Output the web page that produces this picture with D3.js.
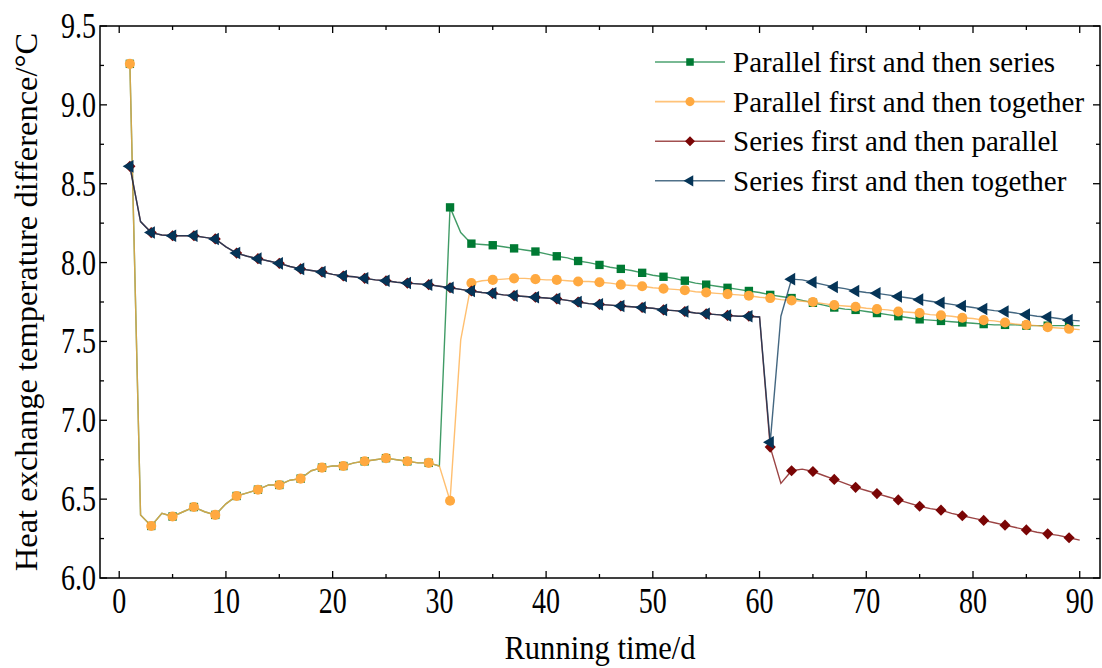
<!DOCTYPE html>
<html>
  <head>
    <meta charset="utf-8">
    <title>Heat exchange temperature difference</title>
    <style>
      body {
        margin: 0;
        background-color: white;
      }
      text {
        font-family: "Liberation Serif", "Times New Roman", serif;
        fill: black;
      }
    </style>
  </head>
  <body>
    <div id="chart"></div>

    <script src="https://d3js.org/d3.v7.min.js"></script>
    <script>
      var days = d3.range(1, 91);

      var parallelSeries = [
        9.26, 6.40, 6.33, 6.41, 6.39, 6.42, 6.45, 6.42, 6.40, 6.47,
        6.52, 6.54, 6.56, 6.59, 6.59, 6.62, 6.63, 6.68, 6.70, 6.71,
        6.71, 6.73, 6.74, 6.75, 6.76, 6.75, 6.74, 6.73, 6.73, 6.71,
        8.35, 8.19, 8.12, 8.115, 8.11, 8.10, 8.09, 8.08, 8.07, 8.055,
        8.04, 8.03, 8.01, 8.00, 7.985, 7.97, 7.96, 7.95, 7.935, 7.92,
        7.91, 7.90, 7.885, 7.87, 7.86, 7.85, 7.84, 7.83, 7.82, 7.81,
        7.795, 7.785, 7.775, 7.76, 7.745, 7.73, 7.715, 7.705, 7.70, 7.69,
        7.68, 7.67, 7.66, 7.65, 7.64, 7.635, 7.63, 7.625, 7.62, 7.615,
        7.61, 7.605, 7.605, 7.605, 7.60, 7.60, 7.60, 7.60, 7.60, 7.60
      ];

      var parallelTogether = [
        9.26, 6.40, 6.33, 6.41, 6.39, 6.42, 6.45, 6.42, 6.40, 6.47,
        6.52, 6.54, 6.56, 6.59, 6.59, 6.62, 6.63, 6.68, 6.70, 6.71,
        6.71, 6.73, 6.74, 6.75, 6.76, 6.75, 6.74, 6.73, 6.73, 6.71,
        6.49, 7.51, 7.87, 7.885, 7.89, 7.895, 7.90, 7.90, 7.895, 7.89,
        7.89, 7.885, 7.88, 7.88, 7.875, 7.87, 7.86, 7.855, 7.85, 7.84,
        7.835, 7.83, 7.825, 7.815, 7.81, 7.805, 7.80, 7.795, 7.79, 7.78,
        7.775, 7.765, 7.76, 7.755, 7.75, 7.74, 7.73, 7.725, 7.72, 7.71,
        7.705, 7.70, 7.69, 7.685, 7.68, 7.67, 7.665, 7.66, 7.65, 7.645,
        7.635, 7.63, 7.62, 7.61, 7.605, 7.60, 7.59, 7.585, 7.58, 7.575
      ];

      var seriesParallel = [
        8.61, 8.26, 8.19, 8.175, 8.17, 8.17, 8.17, 8.16, 8.15, 8.10,
        8.06, 8.04, 8.025, 8.01, 7.995, 7.975, 7.96, 7.95, 7.94, 7.925,
        7.915, 7.91, 7.90, 7.89, 7.885, 7.875, 7.87, 7.865, 7.86, 7.85,
        7.84, 7.83, 7.82, 7.81, 7.805, 7.795, 7.79, 7.785, 7.78, 7.775,
        7.77, 7.76, 7.75, 7.74, 7.735, 7.73, 7.725, 7.72, 7.715, 7.71,
        7.70, 7.695, 7.69, 7.68, 7.675, 7.67, 7.665, 7.66, 7.66, 7.655,
        6.83, 6.60, 6.68, 6.69, 6.675, 6.65, 6.625, 6.60, 6.575, 6.555,
        6.535, 6.515, 6.495, 6.475, 6.455, 6.44, 6.43, 6.41, 6.395, 6.38,
        6.365, 6.35, 6.335, 6.32, 6.305, 6.29, 6.28, 6.27, 6.255, 6.24
      ];

      var seriesTogether = [
        8.61, 8.26, 8.19, 8.175, 8.17, 8.17, 8.17, 8.16, 8.15, 8.10,
        8.06, 8.04, 8.025, 8.01, 7.995, 7.975, 7.96, 7.95, 7.94, 7.925,
        7.915, 7.91, 7.90, 7.89, 7.885, 7.875, 7.87, 7.865, 7.86, 7.85,
        7.84, 7.83, 7.82, 7.81, 7.805, 7.795, 7.79, 7.785, 7.78, 7.775,
        7.77, 7.76, 7.75, 7.74, 7.735, 7.73, 7.725, 7.72, 7.715, 7.71,
        7.70, 7.695, 7.69, 7.68, 7.675, 7.67, 7.665, 7.66, 7.66, 7.655,
        6.86, 7.66, 7.895, 7.89, 7.875, 7.86, 7.845, 7.835, 7.82, 7.81,
        7.805, 7.795, 7.785, 7.775, 7.765, 7.755, 7.745, 7.735, 7.725, 7.715,
        7.705, 7.695, 7.69, 7.68, 7.67, 7.66, 7.655, 7.645, 7.635, 7.63
      ];

      var seriesNames = [
        "Parallel first and then series",
        "Parallel first and then together",
        "Series first and then parallel",
        "Series first and then together"
      ];
      var seriesColors = ["#007a33", "#ffa940", "#7a0505", "#053457"];
      var seriesShapes = ["square", "circle", "diamond", "triangle"];

      var xTicks = [0, 10, 20, 30, 40, 50, 60, 70, 80, 90];
      var yTicks = [6.0, 6.5, 7.0, 7.5, 8.0, 8.5, 9.0, 9.5];

      var width = 1102;
      var height = 668;
      var pLeft = 100, pRight = 1100, pTop = 26, pBottom = 578;

      var svg = d3.select("#chart").append("svg")
        .attr("width", width)
        .attr("height", height);

      var x = d3.scaleLinear().domain([-1.8, 91.9]).range([pLeft, pRight]);
      var y = d3.scaleLinear().domain([6.0, 9.5]).range([pBottom, pTop]);

      // ticks all point inward, on all four sides
      var minorX = d3.range(0, 91, 5);
      var minorY = d3.range(0, 15).map(function(i) { return 6.0 + i * 0.25; });

      var tickG = svg.append("g").attr("stroke", "black").attr("stroke-width", 1.3);
      minorX.forEach(function(t) {
        var len = t % 10 === 0 ? 7 : 4;
        tickG.append("line").attr("x1", x(t)).attr("x2", x(t)).attr("y1", pBottom).attr("y2", pBottom - len);
        tickG.append("line").attr("x1", x(t)).attr("x2", x(t)).attr("y1", pTop).attr("y2", pTop + len);
      });
      minorY.forEach(function(t, i) {
        var len = i % 2 === 0 ? 7 : 4;
        tickG.append("line").attr("x1", pLeft).attr("x2", pLeft + len).attr("y1", y(t)).attr("y2", y(t));
        tickG.append("line").attr("x1", pRight).attr("x2", pRight - len).attr("y1", y(t)).attr("y2", y(t));
      });

      // tick labels are a narrow, tall serif in the original
      svg.append("g").selectAll("text")
        .data(xTicks)
        .enter()
        .append("text")
        .attr("transform", function(d) { return "translate(" + x(d) + "," + (pBottom + 35) + ") scale(0.8,1)"; })
        .attr("text-anchor", "middle")
        .style("font-size", "35px")
        .text(function(d) { return d; });

      svg.append("g").selectAll("text")
        .data(yTicks)
        .enter()
        .append("text")
        .attr("transform", function(d) { return "translate(" + (pLeft - 4) + "," + (y(d) + 12) + ") scale(0.8,1)"; })
        .attr("text-anchor", "end")
        .style("font-size", "35px")
        .text(function(d) { return d.toFixed(1); });

      svg.append("text")
        .attr("transform", "translate(" + ((pLeft + pRight) / 2) + ",659) scale(0.9,1)")
        .attr("text-anchor", "middle")
        .style("font-size", "34px")
        .text("Running time/d");

      svg.append("text")
        .attr("transform", "translate(37," + ((pTop + pBottom) / 2) + ") rotate(-90)")
        .attr("text-anchor", "middle")
        .style("font-size", "32.5px")
        .text("Heat exchange temperature difference/\u00B0C");

      function symbolPath(shape) {
        if (shape === "square") return d3.symbol().type(d3.symbolSquare).size(70)();
        if (shape === "circle") return d3.symbol().type(d3.symbolCircle).size(80)();
        if (shape === "diamond") return d3.symbol().type(d3.symbolSquare).size(62)();
        return d3.symbol().type(d3.symbolTriangle).size(68)();
      }
      function symbolRotate(shape) {
        if (shape === "diamond") return " rotate(45)";
        if (shape === "triangle") return " rotate(-90)";
        return "";
      }

      var allSeries = [parallelSeries, parallelTogether, seriesParallel, seriesTogether];

      var line = d3.line()
        .x(function(d, i) { return x(days[i]); })
        .y(function(d) { return y(d); });

      var plot = svg.append("g");

      allSeries.forEach(function(values, k) {
        plot.append("path")
          .datum(values)
          .attr("d", line)
          .attr("fill", "none")
          .attr("stroke", seriesColors[k])
          .attr("stroke-opacity", 0.75)
          .attr("stroke-width", 1.4);

        plot.append("g").selectAll("path")
          .data(values.filter(function(d, i) { return days[i] % 2 === 1; }))
          .enter()
          .append("path")
          .attr("d", symbolPath(seriesShapes[k]))
          .attr("transform", function(d, i) {
            return "translate(" + x(i * 2 + 1) + "," + y(d) + ")" + symbolRotate(seriesShapes[k]);
          })
          .attr("fill", seriesColors[k]);
      });

      // legend
      var legend = svg.append("g");
      seriesNames.forEach(function(name, k) {
        var ly = 62 + k * 39.6;
        legend.append("line")
          .attr("x1", 655).attr("x2", 725)
          .attr("y1", ly).attr("y2", ly)
          .attr("stroke", seriesColors[k])
          .attr("stroke-opacity", 0.7)
          .attr("stroke-width", 1.6);
        legend.append("path")
          .attr("d", symbolPath(seriesShapes[k]))
          .attr("transform", "translate(690," + ly + ")" + symbolRotate(seriesShapes[k]) + " scale(0.9)")
          .attr("fill", seriesColors[k]);
        legend.append("text")
          .attr("x", 733)
          .attr("y", ly + 10)
          .style("font-size", "29px")
          .text(name);
      });

      // frame
      svg.append("rect")
        .attr("x", pLeft).attr("y", pTop)
        .attr("width", pRight - pLeft).attr("height", pBottom - pTop)
        .attr("fill", "none")
        .attr("stroke", "black")
        .attr("stroke-width", 1.5);
    </script>
  </body>
</html>
